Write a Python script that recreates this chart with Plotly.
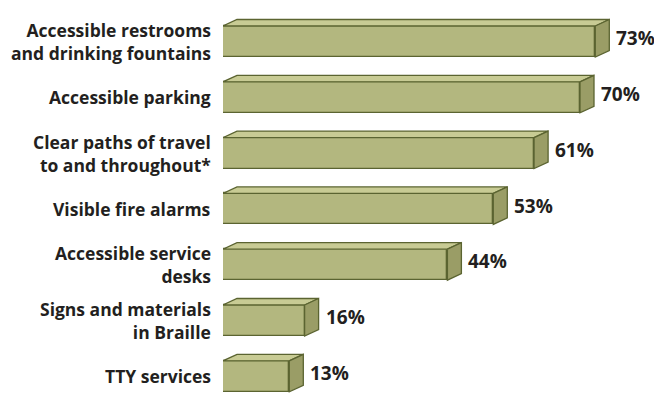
import plotly.graph_objects as go

categories = [
    "Accessible restrooms<br>and drinking fountains",
    "Accessible parking",
    "Clear paths of travel<br>to and throughout*",
    "Visible fire alarms",
    "Accessible service<br>desks",
    "Signs and materials<br>in Braille",
    "TTY services",
]
values = [73, 70, 61, 53, 44, 16, 13]
value_labels = ["73%", "70%", "61%", "53%", "44%", "16%", "13%"]

FRONT = "#b3b77f"
TOP = "#c8cb94"
SIDE = "#9a9d66"
EDGE = "#5b6431"
TEXT = "#231f20"

# page body has an 8px margin; figure sized to fit the window
W, H = 654, 394
ML, MR, MT, MB = 215, 23, 8, 0
PX_PER_X = 5.1
xmax = (W - ML - MR) / PX_PER_X
PX_PER_Y = 55.8
ytop = -0.457
ybot = ytop + (H - MT - MB) / PX_PER_Y

bar_w = 31 / PX_PER_Y
dx = 14 / PX_PER_X
dy = 6.5 / PX_PER_Y

ypos = list(range(len(values)))

fig = go.Figure()

for i, v in enumerate(values):
    y0 = ypos[i] - bar_w / 2
    y1 = ypos[i] + bar_w / 2
    fig.add_trace(go.Scatter(
        x=[0, v, v + dx, dx, 0], y=[y0, y0, y0 - dy, y0 - dy, y0],
        fill="toself", fillcolor=TOP, mode="lines",
        line=dict(color=EDGE, width=1.3), hoverinfo="skip", showlegend=False,
        cliponaxis=False))
    fig.add_trace(go.Scatter(
        x=[v, v + dx, v + dx, v, v], y=[y0, y0 - dy, y1 - dy, y1, y0],
        fill="toself", fillcolor=SIDE, mode="lines",
        line=dict(color=EDGE, width=1.3), hoverinfo="skip", showlegend=False,
        cliponaxis=False))

fig.add_trace(go.Bar(
    x=values, y=ypos, orientation="h", width=bar_w,
    marker=dict(color=FRONT, line=dict(color=EDGE, width=1.3)),
    hoverinfo="skip", showlegend=False, cliponaxis=False))

for i, v in enumerate(values):
    fig.add_annotation(x=v + dx, y=ypos[i] - dy / 2, text=f"<b>{value_labels[i]}</b>",
                       xanchor="left", yanchor="middle", xshift=5, showarrow=False,
                       font=dict(family="Open Sans", size=19, color=TEXT))
    fig.add_annotation(x=0, y=ypos[i], text=f"<b>{categories[i]}</b>",
                       xanchor="right", yanchor="middle", align="right", xshift=-10,
                       showarrow=False,
                       font=dict(family="Open Sans", size=17.5, color=TEXT))

fig.update_layout(
    width=W, height=H,
    margin=dict(l=ML, r=MR, t=MT, b=MB),
    plot_bgcolor="white", paper_bgcolor="white",
    xaxis=dict(range=[0, xmax], visible=False, fixedrange=True),
    yaxis=dict(range=[ybot, ytop], visible=False, fixedrange=True),
    bargap=0,
)

fig.write_html("out.html")
